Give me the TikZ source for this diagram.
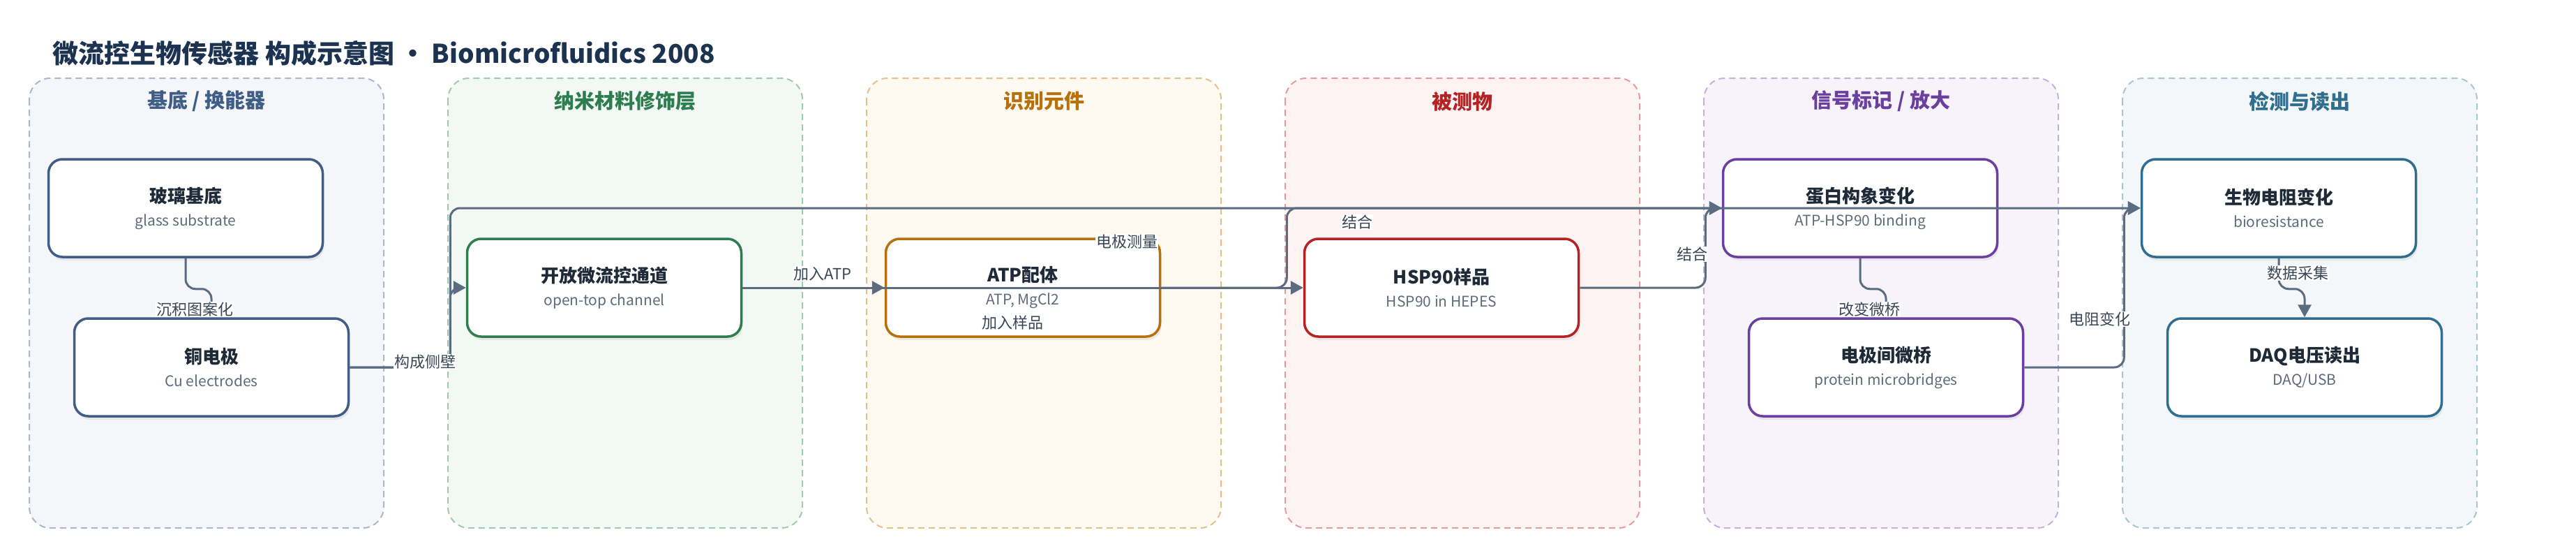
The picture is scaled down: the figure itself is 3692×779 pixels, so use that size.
\documentclass[tikz,border=0pt]{standalone}
\usepackage{fontspec}
\setmainfont{Noto Sans CJK SC}
\usetikzlibrary{arrows.meta,shadows}

\definecolor{edgec}{HTML}{5B6B80}
\definecolor{lblc}{HTML}{3A4555}
\definecolor{subc}{HTML}{5F6B7A}
\definecolor{ttlc}{HTML}{1E2A38}
\definecolor{headc}{HTML}{1B3350}
\definecolor{gA}{HTML}{3F5D85}\definecolor{gAfill}{HTML}{F4F6FA}\definecolor{gAline}{HTML}{A9B8CC}
\definecolor{gB}{HTML}{2E7D4F}\definecolor{gBfill}{HTML}{F2F8F4}\definecolor{gBline}{HTML}{A0CBAE}
\definecolor{gC}{HTML}{B8700B}\definecolor{gCfill}{HTML}{FEF9F1}\definecolor{gCline}{HTML}{E8BF88}
\definecolor{gD}{HTML}{B42323}\definecolor{gDfill}{HTML}{FDF3F3}\definecolor{gDline}{HTML}{E59C9C}
\definecolor{gE}{HTML}{6A3F9E}\definecolor{gEfill}{HTML}{F7F3FB}\definecolor{gEline}{HTML}{C7B0E0}
\definecolor{gF}{HTML}{2F6E8E}\definecolor{gFfill}{HTML}{F3F7F9}\definecolor{gFline}{HTML}{A9C6D5}

\newcommand{\boxtitle}[1]{{\color{ttlc}\fontsize{26}{33}\selectfont\bfseries #1}}
\newcommand{\boxsub}[1]{{\color{subc}\fontsize{21}{33}\selectfont #1}}

\begin{document}
\begin{tikzpicture}[x=1pt,y=-1pt,
  grp/.style={dash pattern=on 9pt off 6pt, line width=2pt, rounded corners=30pt},
  gtitle/.style={font=\fontsize{29}{34}\selectfont\bfseries},
  box/.style={draw, line width=3.5pt, fill=white, rounded corners=20pt,
    minimum width=393pt, minimum height=140pt, align=center,
    font=\fontsize{21}{33}\selectfont,
    drop shadow={opacity=0.13, shadow xshift=2pt, shadow yshift=-5pt}},
  edge/.style={edgec, line width=3pt, rounded corners=14pt, -{Triangle[length=18pt,width=19pt]}},
  lbl/.style={fill=white, inner sep=1pt, text=lblc, font=\fontsize{22}{26}\selectfont}]

\fill[white] (0,0) rectangle (3692,779);

\node[anchor=west, text=headc, font=\fontsize{37}{44}\selectfont\bfseries] (title) at (72,76)
  {微流控生物传感器 构成示意图 · Biomicrofluidics 2008};

\draw[grp, draw=gAline, fill=gAfill] (42,112) rectangle (550,756);
\draw[grp, draw=gBline, fill=gBfill] (642,112) rectangle (1150,756);
\draw[grp, draw=gCline, fill=gCfill] (1242,112) rectangle (1750,756);
\draw[grp, draw=gDline, fill=gDfill] (1842,112) rectangle (2350,756);
\draw[grp, draw=gEline, fill=gEfill] (2442,112) rectangle (2950,756);
\draw[grp, draw=gFline, fill=gFfill] (3042,112) rectangle (3550,756);

\node[gtitle, text=gA] (t1) at (296,145) {基底 / 换能器};
\node[gtitle, text=gB] (t2) at (896,145) {纳米材料修饰层};
\node[gtitle, text=gC] (t3) at (1496,145) {识别元件};
\node[gtitle, text=gD] (t4) at (2096,145) {被测物};
\node[gtitle, text=gE] (t5) at (2696,145) {信号标记 / 放大};
\node[gtitle, text=gF] (t6) at (3296,145) {检测与读出};

\node[box, draw=gA] (glass) at (266,298) {\boxtitle{玻璃基底}\\\boxsub{glass substrate}};
\node[box, draw=gA] (cu) at (303,526) {\boxtitle{铜电极}\\\boxsub{Cu electrodes}};
\node[box, draw=gB] (channel) at (866,412) {\boxtitle{开放微流控通道}\\\boxsub{open-top channel}};
\node[box, draw=gC] (atp) at (1466,412) {\boxtitle{ATP配体}\\\boxsub{ATP, MgCl2}};
\node[box, draw=gD] (hsp) at (2066,412) {\boxtitle{HSP90样品}\\\boxsub{HSP90 in HEPES}};
\node[box, draw=gE] (conf) at (2666,298) {\boxtitle{蛋白构象变化}\\\boxsub{ATP-HSP90 binding}};
\node[box, draw=gE] (bridge) at (2703,526) {\boxtitle{电极间微桥}\\\boxsub{protein microbridges}};
\node[box, draw=gF] (bio) at (3266,298) {\boxtitle{生物电阻变化}\\\boxsub{bioresistance}};
\node[box, draw=gF] (daq) at (3303,526) {\boxtitle{DAQ电压读出}\\\boxsub{DAQ/USB}};

\draw[edge] (glass.south) -- ++(0,44) -| (cu.north);
\draw[edge] (cu.east) -- ++(144,0) |- (channel.west);
\draw[edge] (cu.east) -- ++(144,0) |- (bio.west);
\draw[edge] (channel.east) -- (atp.west);
\draw[edge] (channel.east) -- (hsp.west);
\draw[edge] (atp.east) -- ++(180,0) |- (conf.west);
\draw[edge] (hsp.east) -- ++(180,0) |- (conf.west);
\draw[edge] (conf.south) -- ++(0,44) -| (bridge.north);
\draw[edge] (bridge.east) -- ++(143,0) |- (bio.west);
\draw[edge] (bio.south) -- ++(0,44) -| (daq.north);

\node[lbl] (l1) at (279,443) {沉积图案化};
\node[lbl] (l2) at (609,518) {构成侧壁};
\node[lbl] (l3) at (1615,346) {电极测量};
\node[lbl] (l4) at (1179,392) {加入ATP};
\node[lbl] (l5) at (1451,462) {加入样品};
\node[lbl] (l6) at (1945,318) {结合};
\node[lbl] (l7) at (2425,364) {结合};
\node[lbl] (l8) at (2679,443) {改变微桥};
\node[lbl] (l9) at (3009,457) {电阻变化};
\node[lbl] (l10) at (3293,391) {数据采集};

\end{tikzpicture}
\end{document}
